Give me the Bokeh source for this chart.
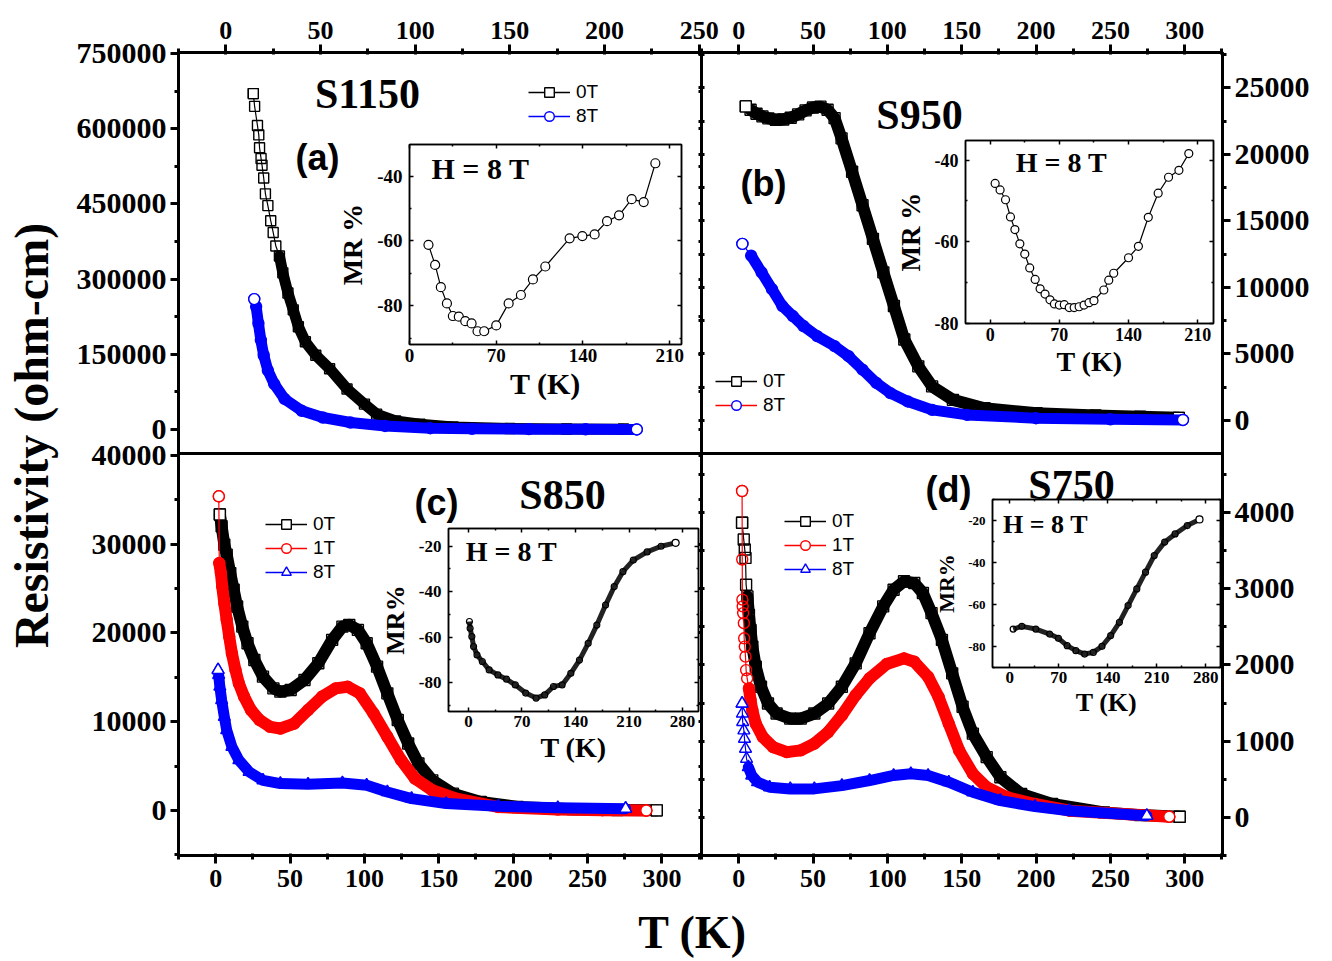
from math import pi
from bokeh.plotting import figure
from bokeh.models import (Range1d, LinearAxis, FixedTicker, NumeralTickFormatter,
                          Legend, LegendItem, Label, GridBox, Column)
from bokeh.embed import file_html
from bokeh.resources import INLINE

W, H = 1332, 961
SERIF = "Liberation Serif"
SANS = "Liberation Sans"
BLACK, RED, BLUE = "#000000", "#ff0000", "#0000ff"
NAN = float("nan")

# ---------------- data ----------------
# (a) S1150
a_T0 = [14.5, 15.2, 16.7, 17.4, 17.8, 18.6, 19.1, 20.0, 20.9, 22.2, 23.7, 25.0, 26.4, 28.3, 30.1,
        32.8, 35.6, 38.3, 42.0, 47.5, 54.8, 64.0, 73.2, 79.6, 89.7, 102.5, 120, 150, 180, 210]
a_R0 = [670000, 644600, 606400, 587600, 562000, 540600, 527200, 501600, 470000, 446600, 416400,
        393000, 366000, 346000, 312400, 272200, 238600, 205000, 174800, 148000, 121200, 80800,
        50600, 30600, 17000, 10400, 5000, 2000, 1000, 500]
a_T8 = [15.0, 16.0, 17.2, 18.5, 20.0, 22.2, 25.5, 31.0, 40.1, 51.2, 65.8, 84.1, 108, 130, 160, 190, 217]
a_R8 = [260000, 245200, 211800, 178200, 148000, 117800, 91000, 60800, 37200, 23800, 13800, 7000,
        2400, 1200, 600, 300, 0]

# (b) S950
b_T0 = [4.8, 8, 12, 16, 20, 25, 30, 35, 40, 45, 50, 55, 59.8, 64.5, 69.2, 76.3, 83.3, 90.3, 97.3,
        104.4, 111.4, 120.8, 130.1, 144.1, 165.3, 200.4, 240, 270, 296]
b_R0 = [23600, 23350, 23050, 22850, 22700, 22600, 22620, 22750, 23000, 23300, 23520, 23580, 23350,
        22720, 21200, 18690, 16170, 13650, 11130, 8600, 6090, 4070, 2560, 1550, 920, 550, 380, 280, 200]
b_T8 = [2.5, 8.4, 15.4, 22.4, 29.4, 36.4, 43.5, 52.8, 64.5, 73.9, 83.3, 92.6, 102, 113.7, 130.1,
        153.6, 200, 250, 298.8]
b_R8 = [13270, 12390, 11130, 9870, 8600, 7850, 7100, 6340, 5590, 4830, 3820, 2820, 2060, 1430, 800,
        420, 170, 90, 40]

# (c) S850
c_T0 = [2.8, 4.0, 5.8, 7.4, 9.8, 12.1, 14.4, 17.9, 21.4, 26.0, 31.8, 38.8, 43.5, 50.4, 59.7, 69.0,
        78.3, 85.2, 89.8, 95.6, 101.5, 108.5, 115.4, 122.4, 129.4, 136.3, 145.6, 159.5, 178.2, 203,
        240, 270, 296.5]
c_R0 = [33350, 32030, 29950, 28830, 26750, 24870, 22990, 20720, 18840, 16960, 15080, 13760, 13390,
        13580, 14710, 16590, 19230, 20720, 20920, 20350, 18840, 16210, 13200, 10190, 7550, 5290,
        3400, 1900, 960, 400, 150, 60, 20]
c_T1 = [2.1, 2.4, 3.5, 4.4, 5.8, 7.4, 9.1, 10.9, 13.3, 15.6, 19.1, 23.7, 29.5, 36.5, 43.5, 52.8,
        62.1, 71.5, 80.7, 88.7, 96.9, 106.1, 115.4, 124.7, 134.0, 145.6, 161.9, 189.7, 230, 260, 289.5]
c_R1 = [35400, 27880, 26750, 25250, 23360, 21480, 19600, 17710, 15830, 14320, 12820, 11320, 10190,
        9430, 9240, 9800, 11320, 12820, 13760, 13950, 13200, 10940, 8310, 5670, 3600, 2280, 1340,
        400, 100, 30, 0]
c_T8 = [1.6, 2.0, 2.8, 4.0, 5.8, 7.4, 10.9, 15.6, 22.5, 31.8, 43.5, 62.1, 85.2, 101.5, 115.4, 131.7,
        154.9, 190, 230, 275.6]
c_R8 = [15830, 15270, 13950, 12440, 10560, 9060, 7180, 5670, 4350, 3400, 3030, 2950, 3100, 2840,
        2085, 1340, 780, 470, 300, 210]

# (d) S750
d_T0 = [2.3, 3.4, 4.1, 4.6, 5.0, 5.9, 6.9, 8.0, 9.2, 11.5, 15.0, 19.7, 25.5, 34.7, 41.7, 50.9, 60.2,
        69.4, 78.7, 88.0, 97.2, 104.2, 111.2, 118.1, 123.9, 129.7, 136.7, 143.6, 150.6, 157.5, 166.8,
        176.0, 190.0, 210.8, 245.6, 270, 296.6]
d_R0 = [3866, 3647, 3515, 3405, 3053, 2900, 2658, 2460, 2241, 1978, 1714, 1494, 1363, 1296, 1296,
        1363, 1494, 1714, 2021, 2417, 2769, 2988, 3098, 3075, 2944, 2681, 2329, 1890, 1451, 1099,
        791, 527, 308, 176, 66, 30, 9]
d_T1 = [2.3, 2.4, 2.5, 2.7, 3.0, 3.5, 3.7, 4.1, 4.6, 5.0, 5.7, 6.9, 8.0, 9.2, 11.5, 16.2, 23.1, 32.4,
        41.7, 50.9, 60.2, 69.4, 78.7, 88.0, 99.6, 111.2, 118.1, 127.4, 134.4, 141.3, 148.3, 157.5,
        166.8, 180.7, 199.3, 222.4, 289.6]
d_R1 = [4283, 3384, 2857, 2769, 2681, 2548, 2350, 2241, 2109, 1933, 1823, 1692, 1538, 1406, 1230,
        1054, 923, 856, 879, 967, 1120, 1340, 1604, 1823, 2013, 2087, 2043, 1845, 1582, 1230, 879,
        572, 396, 264, 176, 88, 9]
d_T8 = [2.3, 2.5, 2.7, 3.5, 3.9, 4.6, 5.3, 6.5, 8.8, 12.7, 20.8, 34.7, 50.9, 69.4, 88.0, 104.2,
        115.8, 127.4, 141.3, 157.5, 176.0, 199.3, 222.4, 274.5]
d_R8 = [1494, 1363, 1252, 1142, 1032, 901, 769, 660, 550, 462, 396, 374, 374, 417, 484, 550, 572,
        550, 462, 330, 220, 141, 88, 22]

# insets: MR % at H = 8 T
ia_T = [15.3, 20.7, 25.3, 30.2, 35.0, 39.8, 45.0, 50.1, 54.9, 60.3, 70.0, 80.0, 89.9, 99.6, 109.6,
        129.2, 139.5, 149.4, 159.4, 169.1, 179.3, 189.0, 198.4]
ia_MR = [-61.2, -67.4, -74.3, -79.3, -83.2, -83.4, -84.8, -85.5, -87.9, -87.9, -86.1, -79.3, -76.7,
         -71.9, -67.9, -59.2, -58.5, -58.0, -53.9, -52.1, -47.1, -48.0, -36.0]
ib_T = [5, 10, 15.5, 20.5, 25, 30, 35, 40, 45.5, 50.5, 55.5, 60.5, 65, 70, 75, 80, 85, 90, 95, 100,
        105, 115, 120, 125, 140, 150, 160, 170, 180.5, 191, 201]
ib_MR = [-45.7, -47.3, -49.7, -53.9, -57.0, -60.5, -63.0, -66.4, -69.2, -71.5, -72.8, -74.2, -75.2,
         -75.5, -75.4, -76.1, -76.1, -75.9, -75.5, -74.9, -74.4, -71.8, -69.4, -67.7, -63.9, -61.1,
         -54.0, -48.1, -44.2, -42.5, -38.4]
ic_T = [1.4, 2.3, 4.5, 6.8, 11.3, 18.2, 27.2, 38.6, 49.9, 61.3, 74.9, 88.5, 99.8, 111.2, 122.5, 133.9,
        145.2, 156.6, 167.9, 179.3, 190.6, 202.0, 215.6, 233.7, 251.9, 270.9]
ic_MR = [-53.1, -56.1, -59.7, -64.1, -67.8, -70.7, -74.4, -76.6, -78.5, -81.0, -84.6, -86.8, -85.4,
         -81.7, -81.0, -75.9, -70.1, -62.7, -54.7, -45.9, -37.8, -31.2, -26.1, -22.5, -20.0, -18.5]
id_T = [5.0, 17.4, 37.3, 57.2, 69.6, 82.1, 94.5, 107.0, 119.4, 131.8, 144.2, 156.7, 169.1, 181.5,
        194.0, 206.4, 221.3, 236.2, 253.6, 271.0]
id_MR = [-71.7, -70.4, -71.7, -74.1, -76.1, -79.6, -82.0, -83.6, -82.8, -79.9, -74.8, -68.5, -60.5,
         -52.6, -44.6, -36.7, -30.3, -26.4, -22.4, -19.5]

# tick values
t_ticks_a = [0, 50, 100, 150, 200, 250]
t_ticks = [0, 50, 100, 150, 200, 250, 300]
ra_ticks = [0, 150000, 300000, 450000, 600000, 750000]
rb_ticks = [0, 5000, 10000, 15000, 20000, 25000]
rc_ticks = [0, 10000, 20000, 30000, 40000]
rd_ticks = [0, 1000, 2000, 3000, 4000]
in_t3 = [0, 70, 140, 210]
in_t4 = [0, 70, 140, 210, 280]
in_mr3 = [-80, -60, -40]
in_mr4 = [-80, -60, -40, -20]


def halfs(ticks):
    step = ticks[1] - ticks[0]
    return [t + step / 2 for t in ticks] + [ticks[0] - step / 2]


def canvas(box, xr, yr, fill=None, outline_w=3):
    l, t, r, b = box
    p = figure(width=W, height=H, x_range=Range1d(*xr), y_range=Range1d(*yr),
               output_backend="svg", toolbar_location=None, title=None,
               x_axis_location=None, y_axis_location=None,
               min_border_left=l, min_border_right=W - r,
               min_border_top=t, min_border_bottom=H - b)
    p.border_fill_color = None
    p.border_fill_alpha = 0
    if fill:
        p.background_fill_color = fill
    else:
        p.background_fill_color = None
        p.background_fill_alpha = 0
    p.grid.visible = False
    p.outline_line_color = "black" if outline_w else None
    p.outline_line_width = outline_w
    return p


def axis(p, side, ticks, minor, labels=True, size="26px", lw=3, mo=8, mi=0, no=4, ni=0,
         standoff=5, label=None, label_size="28px", label_standoff=4):
    ax = LinearAxis(ticker=FixedTicker(ticks=ticks, minor_ticks=minor),
                    formatter=NumeralTickFormatter(format="0"))
    ax.axis_line_width = lw
    ax.major_tick_line_width = lw
    ax.minor_tick_line_width = lw
    ax.major_tick_out, ax.major_tick_in = mo, mi
    ax.minor_tick_out, ax.minor_tick_in = no, ni
    ax.major_label_text_font = SERIF
    ax.major_label_text_font_style = "bold"
    ax.major_label_text_font_size = size
    ax.major_label_text_color = "black"
    ax.major_label_standoff = standoff
    if not labels:
        ax.major_label_overrides = {t: "" for t in ticks}
    if label:
        ax.axis_label = label
        ax.axis_label_text_font = SERIF
        ax.axis_label_text_font_style = "bold"
        ax.axis_label_text_font_size = label_size
        ax.axis_label_text_color = "black"
        ax.axis_label_standoff = label_standoff
    p.add_layout(ax, side)
    return ax


def series(p, T, R, color, marker, size, band_from=0, band_w=None):
    band_w = size if band_w is None else band_w
    p.line(T, R, line_color=color, line_width=1.2)
    if band_from is not None:
        p.line(T[band_from:], R[band_from:], line_color=color, line_width=band_w,
               line_join="round", line_cap="round")
    p.scatter(T, R, marker=marker, size=size, line_color=color, fill_alpha=0, line_width=1.4)
    p.scatter([T[0], T[-1]], [R[0], R[-1]], marker=marker, size=size, line_color=color,
              fill_color="white", line_width=1.4)


ROW = 24     # distance between legend rows


def legend(p, entries, first_row_y, x_left, frame_bottom, frame_left):
    items = []
    for name, lcolor, mcolor, marker in entries:
        # legend-only renderers: a single NaN row so that nothing is drawn in the frame
        lr = p.line([NAN], [NAN], line_color=lcolor, line_width=1.3)
        sr = p.scatter([NAN], [NAN], marker=marker, size=10, line_color=mcolor,
                       fill_color="white", line_width=1.4)
        items.append(LegendItem(label=name, renderers=[lr, sr]))
    n = len(entries)
    top = first_row_y - ROW / 2
    bottom = top + n * ROW
    lg = Legend(items=items, location=(x_left - frame_left, frame_bottom - bottom),
                glyph_width=42, glyph_height=ROW, label_height=ROW,
                label_standoff=6, spacing=0, padding=0, margin=0,
                label_text_font=SANS, label_text_font_size="19px", label_text_color="black",
                border_line_alpha=0, background_fill_alpha=0)
    p.add_layout(lg)


figs = []

# ---- panel (a)
pa = canvas((178, 52, 701, 453), (-25, 251.2), (-48000, 752000), fill="white")
axis(pa, "left", ra_ticks, halfs(ra_ticks), size="30px", standoff=4)
axis(pa, "above", t_ticks_a, halfs(t_ticks_a), size="26px", mi=2, ni=2, standoff=6)
axis(pa, "right", ra_ticks, halfs(ra_ticks), labels=False, mo=3, mi=3, no=3, ni=3)
series(pa, a_T0, a_R0, BLACK, "square", 10, band_from=13, band_w=11)
series(pa, a_T8, a_R8, BLUE, "circle", 11, band_from=1, band_w=11)
legend(pa, [("0T", BLACK, BLACK, "square"), ("8T", BLUE, BLUE, "circle")], 92, 528, 453, 178)
figs.append(pa)

# ---- panel (b)
pb = canvas((701, 52, 1222, 453), (-25, 325.4), (-2480, 27650), fill="white")
axis(pb, "right", rb_ticks, halfs(rb_ticks), size="30px", standoff=4)
axis(pb, "above", t_ticks, halfs(t_ticks), size="26px", mi=2, ni=2, standoff=6)
axis(pb, "left", rb_ticks, halfs(rb_ticks), labels=False, mo=3, mi=3, no=3, ni=3)
series(pb, b_T0, b_R0, BLACK, "square", 11, band_from=1, band_w=12)
series(pb, b_T8, b_R8, BLUE, "circle", 11, band_from=1, band_w=11)
legend(pb, [("0T", BLACK, BLACK, "square"), ("8T", RED, BLUE, "circle")], 381, 715, 453, 701)
figs.append(pb)

# ---- panel (c)
pc = canvas((178, 453, 701, 855), (-25, 326.6), (-5070, 40225), fill="white")
axis(pc, "left", rc_ticks, halfs(rc_ticks), size="30px", standoff=4)
axis(pc, "below", t_ticks, halfs(t_ticks), size="26px", mi=2, ni=2, standoff=6)
axis(pc, "right", rc_ticks, halfs(rc_ticks), labels=False, mo=3, mi=3, no=3, ni=3)
series(pc, c_T0, c_R0, BLACK, "square", 11, band_from=0, band_w=12)
series(pc, c_T1, c_R1, RED, "circle", 11, band_from=1, band_w=12)
series(pc, c_T8, c_R8, BLUE, "triangle", 12, band_from=1, band_w=11)
legend(pc, [("0T", BLACK, BLACK, "square"), ("1T", RED, RED, "circle"),
            ("8T", BLUE, BLUE, "triangle")], 524, 265, 855, 178)
figs.append(pc)

# ---- panel (d)
pd_ = canvas((701, 453, 1222, 855), (-25, 325.4), (-500, 4775), fill="white")
axis(pd_, "right", rd_ticks, halfs(rd_ticks), size="30px", standoff=4)
axis(pd_, "below", t_ticks, halfs(t_ticks), size="26px", mi=2, ni=2, standoff=6)
axis(pd_, "left", rd_ticks, halfs(rd_ticks), labels=False, mo=3, mi=3, no=3, ni=3)
series(pd_, d_T0, d_R0, BLACK, "square", 11, band_from=5, band_w=12)
series(pd_, d_T1, d_R1, RED, "circle", 11, band_from=11, band_w=12)
series(pd_, d_T8, d_R8, BLUE, "triangle", 12, band_from=7, band_w=11)
legend(pd_, [("0T", BLACK, BLACK, "square"), ("1T", RED, RED, "circle"),
             ("8T", BLUE, BLUE, "triangle")], 521, 784, 855, 701)
figs.append(pd_)


# ---- insets
def inset(box, xr, yr, xt, yt, tick_size, ytick_size, ylab, ylab_size, xlab_size, ystand, xstand):
    p = canvas(box, xr, yr, fill="white", outline_w=1.5)
    kw = dict(lw=1.5, mo=0, mi=4, no=0, ni=2)
    axis(p, "left", yt, halfs(yt), size=ytick_size, standoff=7, label=ylab,
         label_size=ylab_size, label_standoff=ystand, **kw)
    axis(p, "below", xt, halfs(xt), size=tick_size, standoff=4, label="T (K)",
         label_size=xlab_size, label_standoff=xstand, **kw)
    axis(p, "above", xt, halfs(xt), labels=False, **kw)
    axis(p, "right", yt, halfs(yt), labels=False, **kw)
    return p


ia = inset((409, 144, 681, 344), (0, 219.5), (-92, -30.2), in_t3, in_mr3, "19px", "19px",
           "MR %", "28px", "30px", 6, 2)
ia.line(ia_T, ia_MR, line_color=BLACK, line_width=1.2)
ia.scatter(ia_T, ia_MR, marker="circle", size=9, line_color=BLACK, fill_color="white", line_width=1.2)
figs.append(ia)

ib = inset((965, 140, 1213, 323), (-25, 226), (-80, -35.2), in_t3, in_mr3, "18px", "18px",
           "MR %", "27px", "28px", 6, 2)
ib.line(ib_T, ib_MR, line_color=BLACK, line_width=1.2)
ib.scatter(ib_T, ib_MR, marker="circle", size=8, line_color=BLACK, fill_color="white", line_width=1.2)
figs.append(ib)

ic = inset((448, 528, 698, 711), (-26, 300.8), (-92.7, -12.2), in_t4, in_mr4, "17px", "17px",
           "MR%", "26px", "28px", 6, 2)
ic.line(ic_T, ic_MR, line_color="#222222", line_width=5, line_join="round")
ic.scatter(ic_T, ic_MR, marker="circle", size=6, line_color=BLACK, fill_alpha=0, line_width=1.2)
ic.scatter([ic_T[-1]], [ic_MR[-1]], marker="circle", size=7, line_color=BLACK, fill_color="white",
           line_width=1.2)
figs.append(ic)

idd = inset((992, 499, 1220, 667), (-24.5, 301), (-90, -10), in_t4, in_mr4, "17px", "13px",
            "MR%", "22px", "26px", 6, 2)
idd.line(id_T, id_MR, line_color="#222222", line_width=5, line_join="round")
idd.scatter(id_T, id_MR, marker="circle", size=6, line_color=BLACK, fill_alpha=0, line_width=1.2)
idd.scatter([id_T[-1]], [id_MR[-1]], marker="circle", size=7, line_color=BLACK, fill_color="white",
            line_width=1.2)
figs.append(idd)

# ---- overlay with the free texts (page pixel coordinates)
ov = canvas((0, 0, W, H), (0, W), (0, H), fill=None, outline_w=0)
ov.min_border = 0
texts = [
    ("Resistivity (ohm-cm)", 31, 435, "48px", SERIF, pi / 2),
    ("T (K)", 692, 932, "46px", SERIF, 0),
    ("S1150", 367, 93, "42px", SERIF, 0),
    ("S950", 919, 114, "42px", SERIF, 0),
    ("S850", 562, 494, "42px", SERIF, 0),
    ("S750", 1071, 484, "42px", SERIF, 0),
    ("(a)", 317, 157, "36px", SANS, 0),
    ("(b)", 763, 183, "36px", SANS, 0),
    ("(c)", 436, 502, "36px", SANS, 0),
    ("(d)", 948, 489, "36px", SANS, 0),
    ("H = 8 T", 480, 168, "30px", SERIF, 0),
    ("H = 8 T", 1061, 162, "28px", SERIF, 0),
    ("H = 8 T", 511, 551, "28px", SERIF, 0),
    ("H = 8 T", 1045, 524, "26px", SERIF, 0),
]
for txt, x, y, fs, font, ang in texts:
    ov.add_layout(Label(x=x, y=H - y, text=txt, text_font=font, text_font_size=fs,
                        text_font_style="bold", text_align="center", text_baseline="middle",
                        angle=ang, text_color="black"))
figs.append(ov)

# every layer is wrapped in its own column so that the grid does not align their frames
root = GridBox(children=[(Column(children=[f], width=W, height=H), 0, 0) for f in figs],
               width=W, height=H)
open("out.html", "w").write(file_html(root, INLINE))
